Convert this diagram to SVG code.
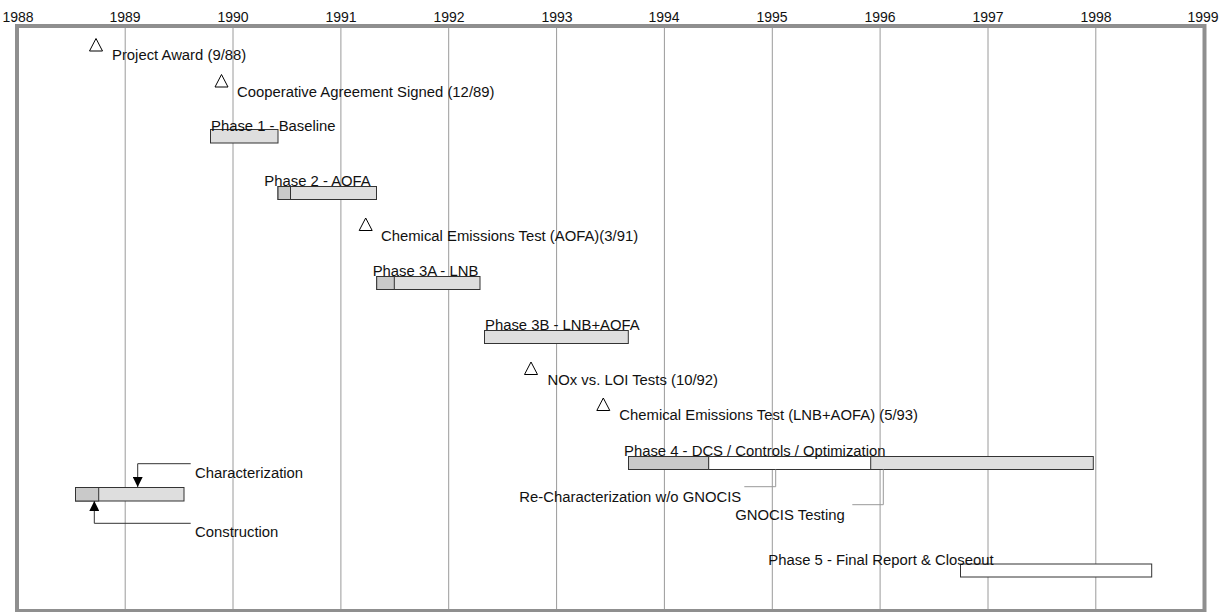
<svg xmlns="http://www.w3.org/2000/svg" width="1225" height="612" viewBox="0 0 1225 612">
  <defs>
    <style>
      text { font-family: "Liberation Sans", Arial, sans-serif; font-size: 14.85px; fill: #111; }
      .year { font-size: 14px; text-anchor: middle; }
      .grid { stroke: #9a9a9a; stroke-width: 1; }
      .frame { fill: none; stroke: #8f8f8f; stroke-width: 4; }
      .bar { stroke: #333; stroke-width: 1; }
      .light { fill: #dedede; }
      .dark { fill: #c9c9c9; }
      .blank { fill: #fff; }
      .ms { fill: #fff; stroke: #000; stroke-width: 1; }
      .lead { fill: none; stroke: #999; stroke-width: 1; }
      .lead-dark { fill: none; stroke: #333; stroke-width: 1; }
    </style>
    <marker id="arrow" viewBox="0 0 10 10" refX="10" refY="5" markerWidth="10" markerHeight="10" markerUnits="userSpaceOnUse" orient="auto">
      <path d="M0,0 L10,5 L0,10 Z" fill="#000"/>
    </marker>
  </defs>

  <rect width="1225" height="612" fill="#fff"/>

  <!-- year axis -->
  <g id="axis">
    <text class="year" x="18" y="22">1988</text>
    <text class="year" x="125" y="22">1989</text>
    <text class="year" x="233" y="22">1990</text>
    <text class="year" x="341" y="22">1991</text>
    <text class="year" x="449" y="22">1992</text>
    <text class="year" x="557" y="22">1993</text>
    <text class="year" x="664" y="22">1994</text>
    <text class="year" x="772" y="22">1995</text>
    <text class="year" x="880" y="22">1996</text>
    <text class="year" x="988" y="22">1997</text>
    <text class="year" x="1096" y="22">1998</text>
    <text class="year" x="1203" y="22">1999</text>
  </g>

  <!-- yearly grid -->
  <g id="grid">
    <line class="grid" x1="125.2" y1="28" x2="125.2" y2="609"/>
    <line class="grid" x1="233" y1="28" x2="233" y2="609"/>
    <line class="grid" x1="340.9" y1="28" x2="340.9" y2="609"/>
    <line class="grid" x1="448.7" y1="28" x2="448.7" y2="609"/>
    <line class="grid" x1="556.6" y1="28" x2="556.6" y2="609"/>
    <line class="grid" x1="664.4" y1="28" x2="664.4" y2="609"/>
    <line class="grid" x1="772.3" y1="28" x2="772.3" y2="609"/>
    <line class="grid" x1="880.1" y1="28" x2="880.1" y2="609"/>
    <line class="grid" x1="988" y1="28" x2="988" y2="609"/>
    <line class="grid" x1="1095.8" y1="28" x2="1095.8" y2="609"/>
  </g>

  <rect class="frame" x="17" y="26" width="1187.5" height="585"/>

  <!-- milestones -->
  <g id="project-award">
    <path class="ms" d="M96,38.5 L102.5,51 L89.5,51 Z"/>
    <text x="112" y="60">Project Award (9/88)</text>
  </g>
  <g id="cooperative-agreement">
    <path class="ms" d="M221.5,74.5 L228,87 L215,87 Z"/>
    <text x="237" y="96.5">Cooperative Agreement Signed (12/89)</text>
  </g>
  <g id="chem-test-aofa">
    <path class="ms" d="M365.7,218 L372.2,230.5 L359.2,230.5 Z"/>
    <text x="381" y="241">Chemical Emissions Test (AOFA)(3/91)</text>
  </g>
  <g id="nox-loi">
    <path class="ms" d="M531,362 L537.5,374.5 L524.5,374.5 Z"/>
    <text x="547.5" y="384.5">NOx vs. LOI Tests (10/92)</text>
  </g>
  <g id="chem-test-lnb-aofa">
    <path class="ms" d="M603.3,398 L609.8,410.5 L596.8,410.5 Z"/>
    <text x="619.3" y="420">Chemical Emissions Test (LNB+AOFA) (5/93)</text>
  </g>

  <!-- phases -->
  <g id="phase-1">
    <rect class="bar light" x="210.5" y="129.5" width="67.5" height="13.5"/>
    <text x="211" y="131">Phase 1 - Baseline</text>
  </g>
  <g id="phase-2">
    <rect class="bar light" x="278" y="186.5" width="98.5" height="13"/>
    <rect class="bar dark" x="278" y="186.5" width="12.5" height="13"/>
    <text x="264.3" y="185.5">Phase 2 - AOFA</text>
  </g>
  <g id="phase-3a">
    <rect class="bar light" x="376.7" y="276.5" width="103.3" height="13"/>
    <rect class="bar dark" x="376.7" y="276.5" width="17.6" height="13"/>
    <text x="372.7" y="275.5">Phase 3A - LNB</text>
  </g>
  <g id="phase-3b">
    <rect class="bar light" x="484.5" y="330.5" width="143.8" height="13"/>
    <text x="485" y="329.5">Phase 3B - LNB+AOFA</text>
  </g>
  <g id="phase-4">
    <rect class="bar light" x="628.5" y="456.5" width="464.8" height="13"/>
    <rect class="bar dark" x="628.5" y="456.5" width="80.2" height="13"/>
    <rect class="bar blank" x="708.7" y="456.5" width="162" height="13"/>
    <text x="624" y="455.5">Phase 4 - DCS / Controls / Optimization</text>
  </g>
  <g id="phase-5">
    <rect class="bar blank" x="960.5" y="564" width="191.2" height="13"/>
    <text x="768.3" y="564.5">Phase 5 - Final Report &amp; Closeout</text>
  </g>

  <!-- legend bar -->
  <g id="legend-bar">
    <rect class="bar light" x="75.5" y="487.5" width="108.5" height="13.5"/>
    <rect class="bar dark" x="75.5" y="487.5" width="23.2" height="13.5"/>
  </g>
  <g id="characterization">
    <text x="195" y="477.5">Characterization</text>
  </g>
  <g id="construction">
    <text x="195" y="537">Construction</text>
  </g>
  <g id="re-characterization">
    <text x="519.3" y="501.7">Re-Characterization w/o GNOCIS</text>
  </g>
  <g id="gnocis-testing">
    <text x="735.3" y="520">GNOCIS Testing</text>
  </g>

  <!-- callout leaders -->
  <g id="connectors">
    <path class="lead-dark" d="M190.7,463.7 H137.7 V487" marker-end="url(#arrow)"/>
    <path class="lead-dark" d="M190.7,523.3 H94.3 V501" marker-end="url(#arrow)"/>
    <path class="lead" d="M744.3,486.7 H775.7 V469.5"/>
    <path class="lead" d="M852.3,504.7 H883.3 V469.5"/>
  </g>
</svg>
